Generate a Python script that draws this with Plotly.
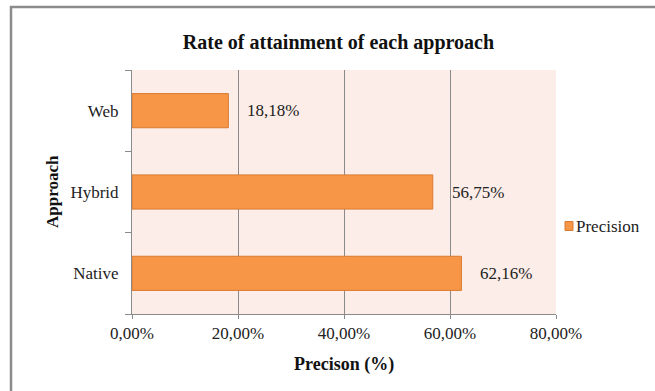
import plotly.graph_objects as go

categories = ["Native", "Hybrid", "Web"]
precision = [62.16, 56.75, 18.18]
series_name = "Precision"
title_text = "Rate of attainment of each approach"
x_title = "Precison (%)"
y_title = "Approach"

W, H = 655, 391
L, R, T, B = 132, 99, 70, 77
pw, ph = W - L - R, H - T - B

def px_x(p):
    return (p - L) / pw

def px_y(p):
    return (H - B - p) / ph

FONT = "Liberation Serif, Times New Roman, serif"
BAR = "#F79646"
BAR_LINE = "#D97A32"

fig = go.Figure()
fig.add_trace(go.Bar(
    y=categories, x=precision, orientation="h", name=series_name,
    marker=dict(color=BAR, line=dict(color=BAR_LINE, width=1)),
    showlegend=False,
))

annotations = []
for c, v in zip(categories, precision):
    annotations.append(dict(
        x=v, y=c, xref="x", yref="y", text=f"{v:.2f}".replace(".", ",") + "%",
        showarrow=False, xanchor="left", yanchor="middle", xshift=17,
        font=dict(family=FONT, size=17, color="#222"),
    ))
annotations.append(dict(
    x=0.5, y=px_y(364), xref="paper", yref="paper", text=f"<b>{x_title}</b>",
    showarrow=False, xanchor="center", yanchor="middle",
    font=dict(family=FONT, size=18, color="#111"),
))
annotations.append(dict(
    x=px_x(52), y=0.5, xref="paper", yref="paper", text=f"<b>{y_title}</b>",
    showarrow=False, xanchor="center", yanchor="middle", textangle=-90,
    font=dict(family=FONT, size=17, color="#111"),
))
# legend (drawn manually to match the compact marker/text spacing)
annotations.append(dict(
    x=px_x(574), y=px_y(226), xref="paper", yref="paper", text=series_name,
    showarrow=False, xanchor="left", yanchor="middle",
    font=dict(family=FONT, size=17, color="#222"),
))

fig.update_layout(
    width=W, height=H,
    margin=dict(l=L, r=R, t=T, b=B, pad=0, autoexpand=False),
    paper_bgcolor="white",
    plot_bgcolor="#FCEDE8",
    separators=",.",
    bargap=0.58,
    title=dict(text=f"<b>{title_text}</b>", x=px_x(338.5), xref="paper", xanchor="center",
               y=1 - 42 / H, yref="container", yanchor="middle",
               font=dict(family=FONT, size=20, color="#111")),
    font=dict(family=FONT, size=17, color="#222"),
    annotations=annotations,
    shapes=[
        dict(type="path", xref="paper", yref="paper",
             path=f"M {px_x(11)} {px_y(395)} L {px_x(11)} {px_y(7)} L {px_x(660)} {px_y(7)}",
             line=dict(color="#8C8C8C", width=2.5)),
        dict(type="rect", xref="paper", yref="paper",
             x0=px_x(565), x1=px_x(573), y0=px_y(230.5), y1=px_y(221.5),
             fillcolor=BAR, line=dict(color=BAR_LINE, width=1)),
    ],
)
fig.update_xaxes(
    range=[0, 80], dtick=20, tickformat=".2f", ticksuffix="%",
    showgrid=True, gridcolor="#8A8A8A", gridwidth=1,
    showline=True, linecolor="#8A8A8A", linewidth=1,
    ticks="outside", ticklen=4, tickcolor="#8A8A8A",
    zeroline=False, tickfont=dict(family=FONT, size=17, color="#222"),
    fixedrange=True,
)
fig.update_yaxes(
    type="category", showgrid=False,
    showline=True, linecolor="#8A8A8A", linewidth=1,
    ticks="outside", ticklen=6, tickcolor="#8A8A8A", tickson="boundaries",
    ticklabelstandoff=9,
    tickfont=dict(family=FONT, size=17, color="#222"),
    fixedrange=True,
)

fig.write_html("out.html")
